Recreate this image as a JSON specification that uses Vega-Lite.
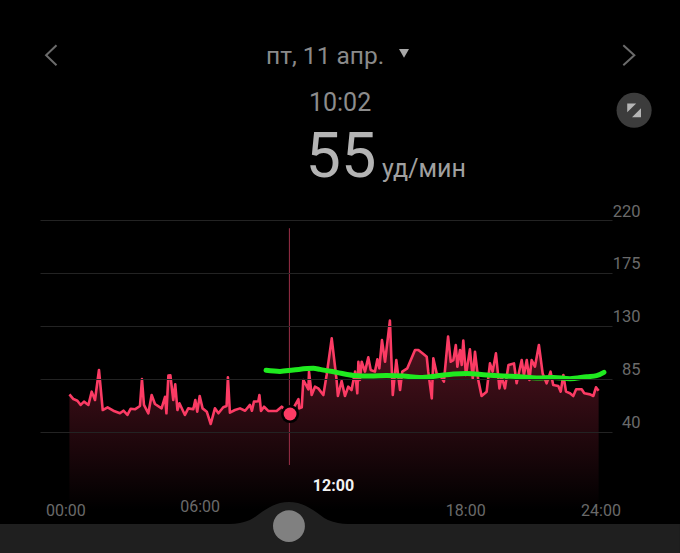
{"$schema":"https://vega.github.io/schema/vega-lite/v6.json","width":572,"height":259,"autosize":{"type":"none"},"padding":{"left":40,"right":68,"top":220,"bottom":74},"background":"#000000","config":{"view":{"stroke":null},"font":"Roboto"},
"datasets":{
"hr":[{"h":0.02,"v":71.9},{"h":0.2,"v":67.9},{"h":0.38,"v":66.5},{"h":0.53,"v":62.9},{"h":0.68,"v":65.7},{"h":0.88,"v":62.9},{"h":1.03,"v":74.2},{"h":1.18,"v":67.1},{"h":1.36,"v":92.6},{"h":1.53,"v":58.6},{"h":1.75,"v":60.9},{"h":2.01,"v":58},{"h":2.31,"v":55.8},{"h":2.47,"v":58},{"h":2.65,"v":54.4},{"h":2.8,"v":59.7},{"h":2.99,"v":59.2},{"h":3.22,"v":62},{"h":3.31,"v":84.9},{"h":3.4,"v":62.9},{"h":3.6,"v":55.8},{"h":3.75,"v":71.3},{"h":3.9,"v":63.7},{"h":4.2,"v":60},{"h":4.36,"v":69.9},{"h":4.42,"v":55.8},{"h":4.51,"v":87.8},{"h":4.6,"v":88},{"h":4.73,"v":67.1},{"h":4.82,"v":80.4},{"h":4.92,"v":58.6},{"h":5.01,"v":64.3},{"h":5.26,"v":54.4},{"h":5.41,"v":60},{"h":5.64,"v":59.2},{"h":5.73,"v":67.1},{"h":5.82,"v":57.2},{"h":5.93,"v":70.5},{"h":6.06,"v":60},{"h":6.25,"v":57.2},{"h":6.43,"v":46.7},{"h":6.62,"v":60},{"h":6.78,"v":55.8},{"h":7,"v":60.9},{"h":7.15,"v":62},{"h":7.21,"v":86.3},{"h":7.3,"v":56.3},{"h":7.53,"v":58.6},{"h":7.76,"v":60},{"h":7.99,"v":58},{"h":8.21,"v":62.9},{"h":8.3,"v":58},{"h":8.39,"v":65.7},{"h":8.59,"v":66},{"h":8.64,"v":71.3},{"h":8.71,"v":57.8},{"h":8.85,"v":61.4},{"h":9.04,"v":57.8},{"h":9.42,"v":57.8},{"h":9.65,"v":61.4},{"h":10.03,"v":55.2},{"h":10.41,"v":67.9},{"h":10.45,"v":60},{"h":10.56,"v":60.9},{"h":10.63,"v":84.1},{"h":10.86,"v":76.2},{"h":10.89,"v":91.2},{"h":11.01,"v":71.3},{"h":11.16,"v":78.4},{"h":11.31,"v":77},{"h":11.54,"v":71.3},{"h":11.69,"v":88.3},{"h":11.92,"v":119.5},{"h":12.14,"v":84.1},{"h":12.2,"v":70.5},{"h":12.37,"v":83.2},{"h":12.52,"v":70.5},{"h":12.67,"v":78.4},{"h":12.82,"v":75.6},{"h":12.98,"v":91.2},{"h":13.08,"v":72.8},{"h":13.13,"v":99.6},{"h":13.2,"v":84.1},{"h":13.28,"v":99.6},{"h":13.43,"v":91.2},{"h":13.58,"v":103.3},{"h":13.69,"v":92.6},{"h":13.88,"v":91.2},{"h":13.99,"v":101.6},{"h":14.08,"v":94},{"h":14.2,"v":118},{"h":14.34,"v":99.6},{"h":14.56,"v":134.5},{"h":14.69,"v":71.3},{"h":14.85,"v":101},{"h":15.02,"v":75.6},{"h":15.12,"v":91.2},{"h":15.35,"v":94},{"h":15.7,"v":109.6},{"h":15.85,"v":109.6},{"h":16.08,"v":106.2},{"h":16.23,"v":103.9},{"h":16.3,"v":91.2},{"h":16.46,"v":68.5},{"h":16.53,"v":102.5},{"h":16.68,"v":89.7},{"h":16.83,"v":88.3},{"h":17.01,"v":82.7},{"h":17.2,"v":120.9},{"h":17.32,"v":99.6},{"h":17.44,"v":101},{"h":17.55,"v":113.8},{"h":17.62,"v":95.4},{"h":17.74,"v":109.6},{"h":17.82,"v":96.8},{"h":17.89,"v":117.5},{"h":18.01,"v":88.3},{"h":18.19,"v":110.1},{"h":18.32,"v":85.5},{"h":18.42,"v":108.1},{"h":18.57,"v":84.1},{"h":18.72,"v":70.5},{"h":18.95,"v":74.2},{"h":19.1,"v":98.2},{"h":19.22,"v":91.2},{"h":19.37,"v":106.7},{"h":19.53,"v":77},{"h":19.63,"v":86.9},{"h":19.78,"v":77},{"h":19.94,"v":96.8},{"h":20.19,"v":98.2},{"h":20.31,"v":81.3},{"h":20.54,"v":101},{"h":20.64,"v":88.3},{"h":20.77,"v":101},{"h":20.89,"v":84.1},{"h":20.99,"v":101},{"h":21.14,"v":95.4},{"h":21.32,"v":113.8},{"h":21.49,"v":89.7},{"h":21.67,"v":81.3},{"h":21.85,"v":91.2},{"h":21.97,"v":79.8},{"h":22.2,"v":79},{"h":22.31,"v":74.2},{"h":22.43,"v":88.3},{"h":22.55,"v":74.2},{"h":22.73,"v":72.8},{"h":22.88,"v":70.5},{"h":23.01,"v":76.2},{"h":23.26,"v":76.2},{"h":23.38,"v":72.8},{"h":23.64,"v":71.9},{"h":23.79,"v":70.5},{"h":23.91,"v":77.9},{"h":24.03,"v":75}],
"trend":[{"h":8.94,"v":92.3},{"h":9.57,"v":91.4},{"h":10.18,"v":92.6},{"h":11.09,"v":94},{"h":11.39,"v":93.1},{"h":12.14,"v":90.6},{"h":12.9,"v":88},{"h":13.66,"v":87.5},{"h":14.41,"v":88},{"h":15.17,"v":87.5},{"h":15.92,"v":86.3},{"h":16.68,"v":87.5},{"h":17.44,"v":89.2},{"h":18.04,"v":89.7},{"h":18.95,"v":88.3},{"h":19.71,"v":87.5},{"h":20.46,"v":86.9},{"h":21.22,"v":85.8},{"h":21.98,"v":86.3},{"h":22.73,"v":85.2},{"h":23.49,"v":86.9},{"h":23.94,"v":87.8},{"h":24.27,"v":90.6}],
"slider":[{"h":-3.13,"v":-38.2},{"h":7.3,"v":-38.2},{"h":8.21,"v":-34.8},{"h":8.89,"v":-26.3},{"h":9.57,"v":-20.4},{"h":9.98,"v":-19.5},{"h":10.39,"v":-20.4},{"h":11.07,"v":-26.3},{"h":11.75,"v":-34.8},{"h":12.66,"v":-38.2},{"h":27.72,"v":-38.2}],
"chevrons":[{"side":"prev","o":1,"h":-0.567,"v":368.5},{"side":"prev","o":2,"h":-1.04,"v":360},{"side":"prev","o":3,"h":-0.567,"v":351.5},{"side":"next","o":1,"h":25.15,"v":368.5},{"side":"next","o":2,"h":25.65,"v":360},{"side":"next","o":3,"h":25.15,"v":351.5}],
"timeLabels":[{"h":-0.14,"v":-27.2,"t":"00:00"},{"h":5.95,"v":-23.8,"t":"06:00"},{"h":18,"v":-27.2,"t":"18:00"},{"h":24.14,"v":-27.2,"t":"24:00"}]
},
"layer":[
{"data":{"name":"hr"},"mark":{"type":"area","fill":{"gradient":"linear","x1":0,"y1":0,"x2":0,"y2":1,"stops":[{"offset":0,"color":"rgba(255,59,98,0.34)"},{"offset":1,"color":"rgba(255,59,98,0)"}]}},"encoding":{"x":{"field":"h","type":"quantitative","scale":{"domain":[-1.316,24.637],"nice":false,"zero":false},"axis":null},"y":{"field":"v","type":"quantitative","scale":{"domain":[0,220],"nice":false},"axis":{"title":null,"orient":"right","values":[40,85,130,175,220],"grid":true,"gridColor":"#232323","gridWidth":1,"domain":false,"ticks":false,"labelPadding":28,"labelAlign":"right","labelOffset":-9,"labelFontSize":16.5,"labelColor":"#6a6a6a","labelOverlap":false,"labelBound":false,"zindex":1}},"y2":{"datum":-26}}},
{"data":{"values":[{"h":10,"v":213,"v2":11.9}]},"mark":{"type":"rule","color":"#9c3048","strokeWidth":1},"encoding":{"x":{"field":"h","type":"quantitative"},"y":{"field":"v","type":"quantitative"},"y2":{"field":"v2"}}},
{"data":{"name":"hr"},"mark":{"type":"line","color":"#fb3b64","strokeWidth":2.6,"strokeJoin":"round"},"encoding":{"x":{"field":"h","type":"quantitative"},"y":{"field":"v","type":"quantitative"}}},
{"data":{"values":[{"h":10.03,"v":55.2}]},"mark":{"type":"point","filled":true,"opacity":1,"size":330,"color":"#000000"},"encoding":{"x":{"field":"h","type":"quantitative"},"y":{"field":"v","type":"quantitative"}}},
{"data":{"values":[{"h":10.03,"v":55.2}]},"mark":{"type":"point","filled":true,"opacity":1,"size":165,"color":"#fb3b64"},"encoding":{"x":{"field":"h","type":"quantitative"},"y":{"field":"v","type":"quantitative"}}},
{"data":{"name":"trend"},"mark":{"type":"line","color":"#1fea1f","strokeWidth":5,"strokeCap":"round","interpolate":"monotone"},"encoding":{"x":{"field":"h","type":"quantitative"},"y":{"field":"v","type":"quantitative"}}},
{"data":{"name":"slider"},"mark":{"type":"area","color":"#1f1f1f","interpolate":"monotone"},"encoding":{"x":{"field":"h","type":"quantitative"},"y":{"field":"v","type":"quantitative"},"y2":{"datum":-63}}},
{"data":{"values":[{"h":9.98,"v":-40}]},"mark":{"type":"point","filled":true,"opacity":1,"size":1018,"color":"#808080"},"encoding":{"x":{"field":"h","type":"quantitative"},"y":{"field":"v","type":"quantitative"}}},
{"data":{"name":"timeLabels"},"mark":{"type":"text","fontSize":16,"color":"#6a6a6a","font":"Roboto","align":"center","baseline":"middle"},"encoding":{"x":{"field":"h","type":"quantitative"},"y":{"field":"v","type":"quantitative"},"text":{"field":"t"}}},
{"data":{"values":[{"h":12,"v":-5.9,"t":"12:00"}]},"mark":{"type":"text","fontSize":16,"fontWeight":"bold","color":"#f2f2f2","font":"Roboto","align":"center","baseline":"middle"},"encoding":{"x":{"field":"h","type":"quantitative"},"y":{"field":"v","type":"quantitative"},"text":{"field":"t"}}},
{"data":{"name":"chevrons"},"mark":{"type":"line","color":"#6b6b6b","strokeWidth":2},"encoding":{"x":{"field":"h","type":"quantitative"},"y":{"field":"v","type":"quantitative"},"detail":{"field":"side"},"order":{"field":"o"}}},
{"data":{"values":[{"h":15.2,"v":361.5}]},"mark":{"type":"point","shape":"triangle-down","filled":true,"opacity":1,"size":100,"color":"#a8a8a8"},"encoding":{"x":{"field":"h","type":"quantitative"},"y":{"field":"v","type":"quantitative"}}},
{"data":{"values":[{"h":25.64,"v":313.2}]},"mark":{"type":"point","filled":true,"opacity":1,"size":1230,"color":"#3c3c3c"},"encoding":{"x":{"field":"h","type":"quantitative"},"y":{"field":"v","type":"quantitative"}}},
{"data":{"values":[{"h":25.64,"v":313.2}]},"mark":{"type":"point","shape":"M-1,-1 L0.3,-1 L-1,0.3 Z M1,1 L-0.3,1 L1,-0.3 Z","filled":true,"opacity":1,"size":190,"color":"#b5b5b5"},"encoding":{"x":{"field":"h","type":"quantitative"},"y":{"field":"v","type":"quantitative"}}},
{"data":{"values":[{"h":11.62,"v":358.3,"t":"пт, 11 апр."}]},"mark":{"type":"text","fontSize":24.5,"color":"#8a8a8a","font":"Roboto","align":"center","baseline":"middle"},"encoding":{"x":{"field":"h","type":"quantitative"},"y":{"field":"v","type":"quantitative"},"text":{"field":"t"}}},
{"data":{"values":[{"h":12.3,"v":319.5,"t":"10:02"}]},"mark":{"type":"text","fontSize":25,"fontWeight":400,"color":"#8c8c8c","font":"Roboto","align":"center","baseline":"middle"},"encoding":{"x":{"field":"h","type":"quantitative"},"y":{"field":"v","type":"quantitative"},"text":{"field":"t"}}},
{"data":{"values":[{"h":12.34,"v":256.4,"t":"55"}]},"mark":{"type":"text","fontSize":63,"fontWeight":400,"color":"#b4b4b4","font":"Roboto","align":"center","baseline":"alphabetic"},"encoding":{"x":{"field":"h","type":"quantitative"},"y":{"field":"v","type":"quantitative"},"text":{"field":"t"}}},
{"data":{"values":[{"h":14.2,"v":256.4,"t":"уд/мин"}]},"mark":{"type":"text","fontSize":25,"color":"#a0a0a0","font":"Roboto","align":"left","baseline":"alphabetic"},"encoding":{"x":{"field":"h","type":"quantitative"},"y":{"field":"v","type":"quantitative"},"text":{"field":"t"}}}
]}
